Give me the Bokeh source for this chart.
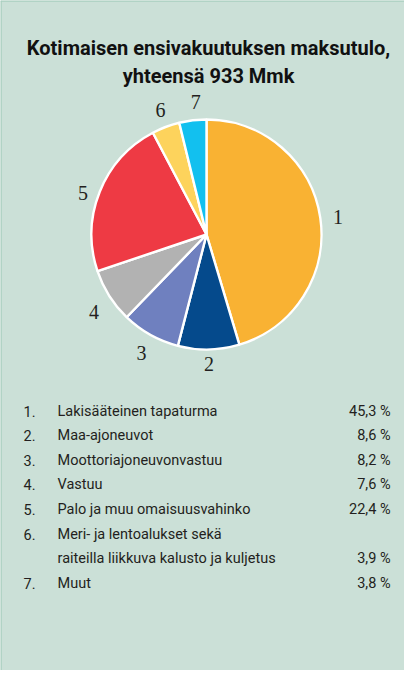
import math
from bokeh.plotting import figure
from bokeh.models import Range1d, Span, ColumnDataSource
from bokeh.core.properties import value
from bokeh.embed import file_html
from bokeh.resources import INLINE

# ---- data ----
title_lines = ["Kotimaisen ensivakuutuksen maksutulo,", "yhteensä 933 Mmk"]
slice_ids = ["1", "2", "3", "4", "5", "6", "7"]
shares = [45.3, 8.6, 8.2, 7.6, 22.4, 3.9, 3.8]
slice_colors = ["#f9b233", "#054a8c", "#6f80bf", "#b2b2b2", "#ee3a44", "#fdd35c", "#12c0ef"]
row_numbers = ["1.", "2.", "3.", "4.", "5.", "6.", "", "7."]
row_labels = ["Lakisääteinen tapaturma", "Maa-ajoneuvot", "Moottoriajoneuvonvastuu",
              "Vastuu", "Palo ja muu omaisuusvahinko", "Meri- ja lentoalukset sekä",
              "raiteilla liikkuva kalusto ja kuljetus", "Muut"]
row_values = ["45,3 %", "8,6 %", "8,2 %", "7,6 %", "22,4 %", "", "3,9 %", "3,8 %"]

# label nudges in screen pixels (layout only)
label_nudge_x = [0, 0, 0, 0, 0, 1, 5]
label_nudge_y = [-2, 3, -2, -6, -8, 0, 0]

W, H = 404, 670
BG = "#cbe0d7"
BORDER = "#a9cfbf"
TXT = "#231f20"

def dy(page_y):
    return 678 - page_y

def dx(page_x):
    return page_x - 8

p = figure(width=W, height=H, output_backend="svg", toolbar_location=None,
           x_range=Range1d(0, W), y_range=Range1d(0, H), min_border=0,
           background_fill_color=BG, border_fill_color=BG, outline_line_color=None)
p.axis.visible = False
p.grid.visible = False

p.add_layout(Span(location=0.5, dimension="height", line_color=BORDER, line_width=1.5))
p.add_layout(Span(location=H - 0.5, dimension="width", line_color=BORDER, line_width=1.5))

# title
p.text(x=[dx(216)] * 2, y=[dy(55), dy(83)], text=title_lines,
       text_font=value("Roboto"), text_font_style="bold", text_font_size="20px",
       text_align="center", text_baseline="alphabetic", text_color="#111111")

# pie
total = sum(shares)
cx, cy, r = dx(214), dy(242), 115
starts, ends, lx, ly = [], [], [], []
cum = 0.0
for i, s in enumerate(shares):
    a0 = math.pi / 2 - 2 * math.pi * cum / total
    cum += s
    a1 = math.pi / 2 - 2 * math.pi * cum / total
    starts.append(a0)
    ends.append(a1)
    mid = (a0 + a1) / 2
    lx.append(cx + 133 * math.cos(mid) + label_nudge_x[i])
    ly.append(cy + 133 * math.sin(mid) + label_nudge_y[i])

src = ColumnDataSource(dict(start=starts, end=ends, color=slice_colors))
p.wedge(x=cx, y=cy, radius=r, start_angle="start", end_angle="end", direction="clock",
        fill_color="color", line_color="white", line_width=2.4, source=src)

p.text(x=lx, y=ly, text=slice_ids, text_font=value("Liberation Serif"),
       text_font_size="20px", text_align="center", text_baseline="middle", text_color=TXT)

# legend rows
ys = [dy(418.5 + 24.6 * i) for i in range(len(row_labels))]
p.text(x=[dx(43)] * len(ys), y=ys, text=row_numbers, text_font=value("Roboto"),
       text_font_size="14.5px", text_align="right", text_baseline="alphabetic", text_color=TXT)
p.text(x=[dx(65)] * len(ys), y=ys, text=row_labels, text_font=value("Roboto"),
       text_font_size="14.5px", text_align="left", text_baseline="alphabetic", text_color=TXT)
p.text(x=[dx(398)] * len(ys), y=ys, text=row_values, text_font=value("Roboto"),
       text_font_size="14.5px", text_align="right", text_baseline="alphabetic", text_color=TXT)

open("out.html", "w").write(file_html(p, INLINE))
